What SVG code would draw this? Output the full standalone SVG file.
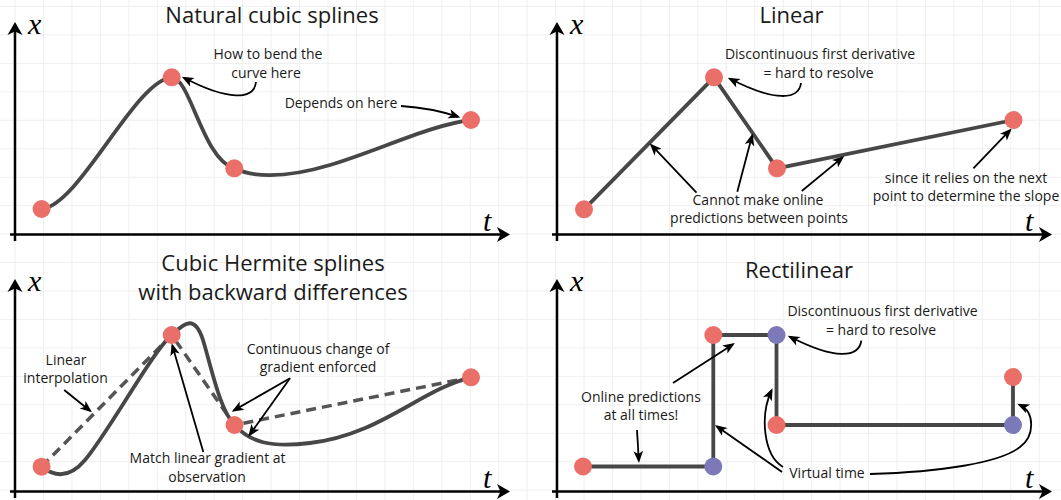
<svg xmlns="http://www.w3.org/2000/svg" width="1061" height="500" viewBox="0 0 1061 500">
<style>
.t{font-family:"Open Sans","Noto Sans","Liberation Sans",sans-serif;fill:#1a1a1a;text-anchor:middle}
.title{font-size:22px}
.ann{font-size:14px}
.math{font-family:"Liberation Serif","DejaVu Serif",serif;font-style:italic;font-size:30px;fill:#000}
.curve{fill:none;stroke:#474747;stroke-width:3.8;stroke-linecap:round;stroke-linejoin:round}
.dash{fill:none;stroke:#555;stroke-width:3.5;stroke-dasharray:10 6}
.arr{fill:none;stroke:#000;stroke-width:1.8;marker-end:url(#ah)}
.axis{fill:none;stroke:#000;stroke-width:2.5;marker-end:url(#axh)}
.red{fill:#eb6f69}
.blue{fill:#7b79b8}
</style>
<defs>
<pattern id="grid" patternUnits="userSpaceOnUse" x="43" y="6" width="28.45" height="28.45">
<path d="M0.5,0 V28.45 M0,0.5 H28.45" fill="none" stroke="#efefef" stroke-width="1"/>
</pattern>
<marker id="ah" viewBox="-10 -5 13 10" refX="0" refY="0" markerWidth="13" markerHeight="10" markerUnits="userSpaceOnUse" orient="auto">
<path d="M2.5,0 L-9.5,-4.8 L-6.5,0 L-9.5,4.8 Z" fill="#000"/>
</marker>
<marker id="axh" viewBox="-7 -8 15 16" refX="0" refY="0" markerWidth="15" markerHeight="16" markerUnits="userSpaceOnUse" orient="auto">
<path d="M7,0 L-6,-7.5 L-2.5,0 L-6,7.5 Z" fill="#000"/>
</marker>
<g id="axes">
<path class="axis" d="M15,241 V29"/>
<path class="axis" d="M10,234.5 H503"/>
<text class="math" x="28" y="34.3">x</text>
<text class="math" x="483" y="230.5">t</text>
</g>
</defs>
<rect width="1061" height="500" fill="#fff"/>
<rect width="1061" height="500" fill="url(#grid)"/>

<g id="axes-panels">
<use href="#axes"/>
<use href="#axes" transform="translate(542,0)"/>
<use href="#axes" transform="translate(0,257)"/>
<use href="#axes" transform="translate(542,257)"/>
</g>

<g id="titles">
<text class="t title" x="272" y="23">Natural cubic splines</text>
<text class="t title" x="791.5" y="23">Linear</text>
<text class="t title" x="273" y="271">Cubic Hermite splines</text>
<text class="t title" x="273" y="300">with backward differences</text>
<text class="t title" x="799" y="277.5">Rectilinear</text>
</g>

<g id="connectors">
<!-- panel 1 -->
<path class="curve" d="M41.6,209 C80,205 135,80 171.7,77.3 C190,77 203,160 234.3,168.3 C250,176 280,180 330,165 C380,150 430,125 471,120"/>
<!-- panel 2 -->
<path class="curve" d="M584,209.3 L714,77.3 L777,168.3 L1013.5,120"/>
<!-- panel 3 -->
<path class="dash" d="M41.6,466.7 L171.7,335 L234.5,425 L471,377.3"/>
<path class="curve" d="M41.6,466.7 C55,477 70,478 85,460 C110,430 152,352 171.7,335 C185,322 195,315 203,340 C212,370 220,410 234.5,425 C250,442 270,448 310,443 C380,435 420,390 471,377.3"/>
<!-- panel 4 -->
<path class="curve" d="M583,466.5 H713.3 V335 H776.5 V425 H1013 V377"/>

<!-- annotation arrows panel 1 -->
<path class="arr" d="M256,82 C254,100 228,101 184,77.8"/>
<path class="arr" d="M401,106 Q432,108 458,116.8"/>
<!-- panel 2 -->
<path class="arr" d="M801,83 C799,100 775,102 730,78.8"/>
<path class="arr" d="M696.5,192.7 L651.5,145.2"/>
<path class="arr" d="M737.3,191.7 L752,136"/>
<path class="arr" d="M801.8,191 L842.3,157.6"/>
<path class="arr" d="M973.4,168.3 L1010,130.2"/>
<!-- panel 3 -->
<path class="arr" d="M64.2,390 L90,410.7"/>
<path class="arr" d="M290,378.3 L233.9,410.4"/>
<path class="arr" d="M290,378.3 L249.8,434.6"/>
<path class="arr" d="M203.3,452 L172.4,345.7"/>
<!-- panel 4 -->
<path class="arr" d="M861.3,340.7 C859,358 835,360 790,336.8"/>
<path class="arr" d="M673,383 L732.8,344.4"/>
<path class="arr" d="M637,430 L638.8,460.5"/>
<path class="arr" d="M782,472 L717,426.4"/>
<path class="arr" d="M783,467 C763,455 760,415 771.5,390.5"/>
<path class="arr" d="M870,474 C940,472 1000,463 1020,447 C1035,436 1035,412 1019.5,404.8"/>
</g>

<g id="p1-dots">
<g id="p1-n1"><circle class="red" cx="41.6" cy="209" r="9"/></g>
<g id="p1-n2"><circle class="red" cx="171.7" cy="77.3" r="9"/></g>
<g id="p1-n3"><circle class="red" cx="234.3" cy="168.3" r="9"/></g>
<g id="p1-n4"><circle class="red" cx="471" cy="120" r="9"/></g>
</g>
<g id="p2-dots">
<g id="p2-n1"><circle class="red" cx="584" cy="209.3" r="9"/></g>
<g id="p2-n2"><circle class="red" cx="714" cy="77.3" r="9"/></g>
<g id="p2-n3"><circle class="red" cx="777" cy="168.3" r="9"/></g>
<g id="p2-n4"><circle class="red" cx="1013.5" cy="120" r="9"/></g>
</g>
<g id="p3-dots">
<g id="p3-n1"><circle class="red" cx="41.6" cy="466.7" r="9"/></g>
<g id="p3-n2"><circle class="red" cx="171.7" cy="335" r="9"/></g>
<g id="p3-n3"><circle class="red" cx="234.5" cy="425" r="9"/></g>
<g id="p3-n4"><circle class="red" cx="471" cy="377.3" r="9"/></g>
</g>
<g id="p4-dots">
<g id="p4-n1"><circle class="red" cx="583" cy="466.5" r="9"/></g>
<g id="p4-n2"><circle class="blue" cx="713.3" cy="466.5" r="9"/></g>
<g id="p4-n3"><circle class="red" cx="713.3" cy="335" r="9"/></g>
<g id="p4-n4"><circle class="blue" cx="776.5" cy="335" r="9"/></g>
<g id="p4-n5"><circle class="red" cx="776.5" cy="425" r="9"/></g>
<g id="p4-n6"><circle class="blue" cx="1013" cy="425" r="9"/></g>
<g id="p4-n7"><circle class="red" cx="1013" cy="377" r="9"/></g>
</g>

<g id="annotations">
<g id="a-bend"><text class="t ann" x="268" y="59.3">How to bend the</text><text class="t ann" x="266" y="78.3">curve here</text></g>
<g id="a-depends"><text class="t ann" x="341" y="107.7">Depends on here</text></g>
<g id="a-disc1"><text class="t ann" x="820" y="59.3">Discontinuous first derivative</text><text class="t ann" x="818.5" y="78.3">= hard to resolve</text></g>
<g id="a-cannot"><text class="t ann" x="758" y="205">Cannot make online</text><text class="t ann" x="759" y="222.5">predictions between points</text></g>
<g id="a-since"><text class="t ann" x="966" y="182.7">since it relies on the next</text><text class="t ann" x="966" y="200.5">point to determine the slope</text></g>
<g id="a-linear"><text class="t ann" x="66" y="365">Linear</text><text class="t ann" x="65.6" y="383.3">interpolation</text></g>
<g id="a-cont"><text class="t ann" x="318" y="354">Continuous change of</text><text class="t ann" x="318" y="372.3">gradient enforced</text></g>
<g id="a-match"><text class="t ann" x="207.6" y="463.3">Match linear gradient at</text><text class="t ann" x="207" y="481.7">observation</text></g>
<g id="a-disc2"><text class="t ann" x="882.5" y="316">Discontinuous first derivative</text><text class="t ann" x="881" y="335">= hard to resolve</text></g>
<g id="a-online"><text class="t ann" x="641" y="401.7">Online predictions</text><text class="t ann" x="641" y="420">at all times!</text></g>
<g id="a-virtual"><text class="t ann" x="827" y="477.7">Virtual time</text></g>
</g>
</svg>
